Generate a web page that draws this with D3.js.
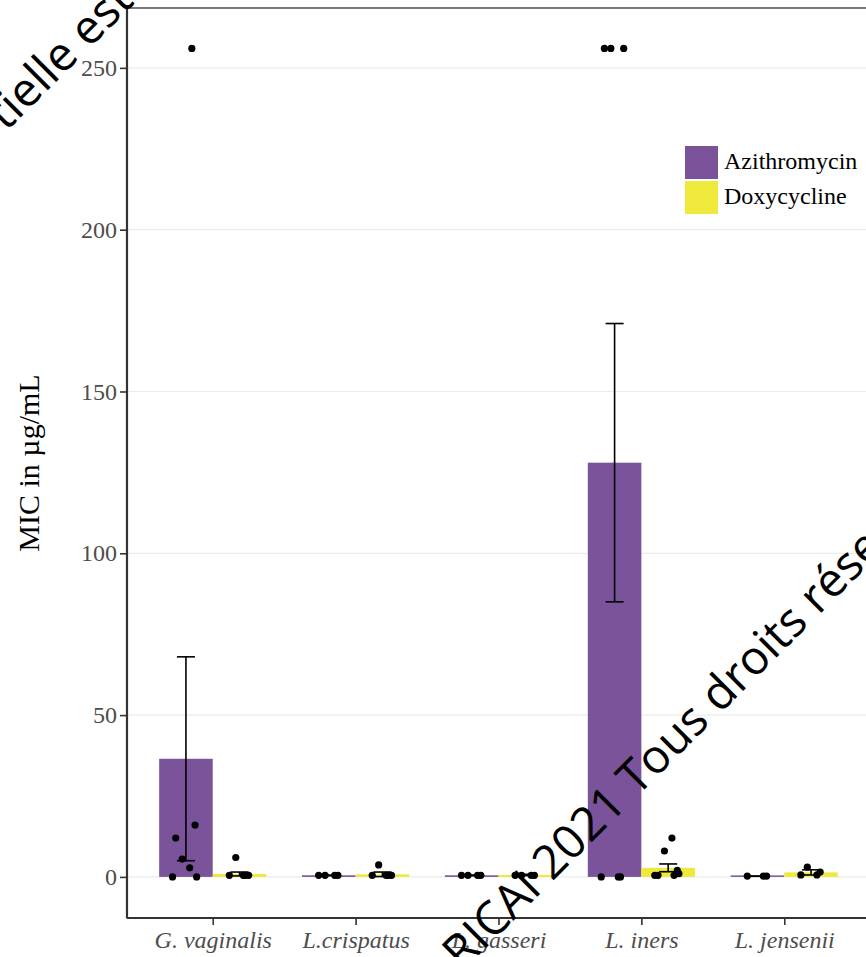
<!DOCTYPE html>
<html>
<head>
<meta charset="utf-8">
<script src="https://cdn.jsdelivr.net/npm/d3@7"></script>
<style>
  html, body { margin: 0; padding: 0; background: #fff; }
</style>
</head>
<body>
<svg id="Chart"></svg>
<script>
// data
const categories = ['G. vaginalis', 'L.crispatus', 'L. gasseri', 'L. iners', 'L. jensenii'];
const antibiotics = ['Azithromycin', 'Doxycycline'];
const azithroMean = [36.5, 0.5, 0.5, 128, 0.2];
const azithroSE = [31.5, 0, 0, 43, 0];
const doxyMean = [0.9, 0.8, 0.6, 2.8, 1.4];
const doxySE = [0.6, 0.7, 0.2, 1.2, 0.8];
const azithroPoints = [
  [256, 16, 12, 5.5, 2.8, 0, 0],
  [0.5, 0.5, 0.5, 0.5],
  [0.5, 0.5, 0.5, 0.5],
  [0, 256, 256, 256, 0, 0],
  [0.25, 0.25, 0.25]
];
const doxyPoints = [
  [0.5, 0.5, 0.5, 6, 0.5],
  [0.5, 0.5, 0.5, 3.7, 0.5],
  [0.5, 0.5, 0.5, 0.5],
  [0.5, 2, 0.5, 8, 12, 0.5, 1],
  [0.6, 1.5, 0.6, 3]
];
const yTicks = [0, 50, 100, 150, 200, 250];

const colors = { Azithromycin: '#7b539b', Doxycycline: '#efe93b' };
// fixed horizontal spread of the dots, as a fraction of one bar width
const jitterSteps = [0.11, 0.17, -0.19, -0.07, 0.07, -0.25, 0.2, -0.12];

const W = 866, H = 957;
const panel = { left: 127, top: 8, right: 870, bottom: 918 };

const svg = d3.select('#Chart')
  .attr('width', W)
  .attr('height', H)
  .style('display', 'block');

const x = d3.scalePoint()
  .domain(categories)
  .range([panel.left, panel.right])
  .padding(0.6);
const unit = x.step();
const barW = unit * 0.375;

const y = d3.scaleLinear()
  .domain([-12.7, 268.5])
  .range([panel.bottom, panel.top]);

// grid
svg.append('g')
  .selectAll('line')
  .data(yTicks)
  .enter().append('line')
  .attr('x1', panel.left)
  .attr('x2', panel.right)
  .attr('y1', d => y(d))
  .attr('y2', d => y(d))
  .attr('stroke', '#ebebeb')
  .attr('stroke-width', 1.2);

// panel border (top / right)
svg.append('rect')
  .attr('x', panel.left)
  .attr('y', panel.top)
  .attr('width', panel.right - panel.left)
  .attr('height', panel.bottom - panel.top)
  .attr('fill', 'none')
  .attr('stroke', '#333')
  .attr('stroke-width', 1.3);

const rows = [];
categories.forEach((c, i) => {
  rows.push({ cat: c, ab: 'Azithromycin', mean: azithroMean[i], se: azithroSE[i], pts: azithroPoints[i], side: -1 });
  rows.push({ cat: c, ab: 'Doxycycline', mean: doxyMean[i], se: doxySE[i], pts: doxyPoints[i], side: 1 });
});
const cx = d => x(d.cat) + d.side * barW / 2;

// bars
svg.append('g')
  .selectAll('rect')
  .data(rows)
  .enter().append('rect')
  .attr('x', d => cx(d) - barW / 2)
  .attr('width', barW)
  .attr('y', d => Math.min(y(d.mean), y(0) - 1.5))
  .attr('height', d => Math.max(y(0) - y(d.mean), 1.5))
  .attr('fill', d => colors[d.ab]);

// error bars
const eb = svg.append('g')
  .selectAll('g')
  .data(rows)
  .enter().append('g')
  .attr('stroke', '#000')
  .attr('stroke-width', 1.6);
eb.append('line')
  .attr('x1', d => cx(d)).attr('x2', d => cx(d))
  .attr('y1', d => y(d.mean - d.se)).attr('y2', d => y(d.mean + d.se));
[-1, 1].forEach(s => {
  eb.append('line')
    .attr('x1', d => cx(d) - 9).attr('x2', d => cx(d) + 9)
    .attr('y1', d => y(d.mean + s * d.se)).attr('y2', d => y(d.mean + s * d.se));
});

// dots
const dots = [];
rows.forEach(r => r.pts.forEach((v, j) => dots.push({ x: cx(r) + jitterSteps[j % jitterSteps.length] * barW, v: v })));
svg.append('g')
  .selectAll('circle')
  .data(dots)
  .enter().append('circle')
  .attr('cx', d => d.x)
  .attr('cy', d => y(d.v))
  .attr('r', 3.6)
  .attr('fill', '#000');

// axes
const yAxis = svg.append('g')
  .attr('transform', 'translate(' + panel.left + ',0)')
  .call(d3.axisLeft(y).tickValues(yTicks).tickSize(7).tickPadding(3));
const xAxis = svg.append('g')
  .attr('transform', 'translate(0,' + panel.bottom + ')')
  .call(d3.axisBottom(x).tickSize(7).tickPadding(6));

[yAxis, xAxis].forEach(a => {
  a.select('.domain').attr('stroke', '#333').attr('stroke-width', 2.2);
  a.selectAll('.tick line').attr('stroke', '#333').attr('stroke-width', 1.6);
  a.selectAll('.tick text')
    .attr('fill', '#4d4d4d')
    .style('font-family', '"Liberation Serif", "Times New Roman", serif')
    .style('font-size', '24px');
});
xAxis.select('.domain').attr('d', 'M' + panel.left + ',0H' + panel.right);
yAxis.select('.domain').attr('d', 'M0,' + panel.bottom + 'V' + panel.top);
xAxis.selectAll('.tick text').style('font-style', 'italic');

svg.append('text')
  .attr('transform', 'translate(39,' + ((panel.top + panel.bottom) / 2) + ') rotate(-90)')
  .attr('text-anchor', 'middle')
  .style('font-family', '"Liberation Serif", "Times New Roman", serif')
  .style('font-size', '30px')
  .attr('fill', '#000')
  .text('MIC in µg/mL');

// legend
const legend = svg.selectAll('.legend')
  .data(antibiotics)
  .enter().append('g')
  .attr('class', 'legend')
  .attr('transform', (d, i) => 'translate(685,' + (146 + i * 35) + ')');
legend.append('rect')
  .attr('width', 33)
  .attr('height', 33)
  .attr('fill', d => colors[d]);
legend.append('text')
  .attr('x', 39)
  .attr('y', 23)
  .style('font-family', '"Liberation Serif", "Times New Roman", serif')
  .style('font-size', '24px')
  .attr('fill', '#000')
  .text(d => d);

// watermark
const wm = svg.append('g')
  .style('font-family', '"Open Sans", sans-serif')
  .style('font-size', '47px')
  .attr('fill', '#000');

function stamp(str, part, px, py) {
  const t = wm.append('text').text(str);
  const off = t.node().getSubStringLength(0, str.indexOf(part));
  t.attr('x', -off).attr('y', 0)
    .attr('transform', 'translate(' + px + ',' + py + ') rotate(-45)');
}
stamp('Reproduction partielle est interdite', 'tielle', 6, 132);
stamp('© RICAI 2021 Tous droits réservés', '2021', 552, 882);
</script>
</body>
</html>
